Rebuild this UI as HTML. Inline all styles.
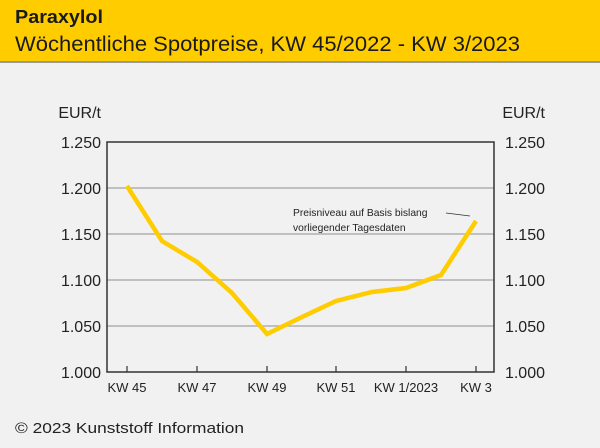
<!DOCTYPE html>
<html><head><meta charset="utf-8"><style>
body{margin:0;width:600px;height:443px;background:#f0f1f0;font-family:"Liberation Sans",sans-serif;overflow:hidden}
</style></head><body>
<svg width="600" height="443" xmlns="http://www.w3.org/2000/svg" font-family="Liberation Sans, sans-serif">
<rect x="0" y="0" width="600" height="61" fill="#ffcc00"/>
<rect x="0" y="61" width="600" height="2" fill="#9a9a9a"/>
<text x="15" y="23" font-size="18" font-weight="bold" fill="#1a1a1a" textLength="88" lengthAdjust="spacingAndGlyphs">Paraxylol</text>
<text x="15" y="51" font-size="21" fill="#1a1a1a" textLength="505" lengthAdjust="spacingAndGlyphs">Wöchentliche Spotpreise, KW 45/2022 - KW 3/2023</text>
<g stroke="#b0b0b0" stroke-width="1.5">
<line x1="107" y1="188" x2="494" y2="188"/>
<line x1="107" y1="234" x2="494" y2="234"/>
<line x1="107" y1="280" x2="494" y2="280"/>
<line x1="107" y1="326" x2="494" y2="326"/>
</g>
<rect x="107" y="142" width="387" height="230" fill="none" stroke="#333" stroke-width="1.5"/>
<g stroke="#333" stroke-width="1.2">
<line x1="127" y1="372" x2="127" y2="366"/><line x1="197" y1="372" x2="197" y2="366"/>
<line x1="267" y1="372" x2="267" y2="366"/><line x1="336" y1="372" x2="336" y2="366"/>
<line x1="406" y1="372" x2="406" y2="366"/><line x1="476" y1="372" x2="476" y2="366"/>
</g>
<g font-size="16" fill="#222" text-anchor="end">
<text x="101" y="118">EUR/t</text>
<text x="101" y="148">1.250</text><text x="101" y="194">1.200</text><text x="101" y="240">1.150</text>
<text x="101" y="286">1.100</text><text x="101" y="332">1.050</text><text x="101" y="378">1.000</text>
</g>
<g font-size="16" fill="#222" text-anchor="end">
<text x="545" y="118">EUR/t</text>
<text x="545" y="148">1.250</text><text x="545" y="194">1.200</text><text x="545" y="240">1.150</text>
<text x="545" y="286">1.100</text><text x="545" y="332">1.050</text><text x="545" y="378">1.000</text>
</g>
<g font-size="13" fill="#222" text-anchor="middle">
<text x="127" y="392">KW 45</text><text x="197" y="392">KW 47</text><text x="267" y="392">KW 49</text>
<text x="336" y="392">KW 51</text><text x="406" y="392">KW 1/2023</text><text x="476" y="392">KW 3</text>
</g>
<polyline fill="none" stroke="#ffcc00" stroke-width="4.5" stroke-linejoin="miter" points="127,186 162,241 197,262 232,293 267,334 302,317 336,301 372,292 406,288 441,275 476,221"/>
<g font-size="10.3" fill="#222">
<text x="293" y="216">Preisniveau auf Basis bislang</text>
<text x="293" y="231">vorliegender Tagesdaten</text>
</g>
<line x1="446" y1="213" x2="470" y2="216" stroke="#333" stroke-width="0.8"/>
<text x="15" y="433" font-size="15" fill="#222" textLength="229" lengthAdjust="spacingAndGlyphs">© 2023 Kunststoff Information</text>
</svg>
</body></html>
